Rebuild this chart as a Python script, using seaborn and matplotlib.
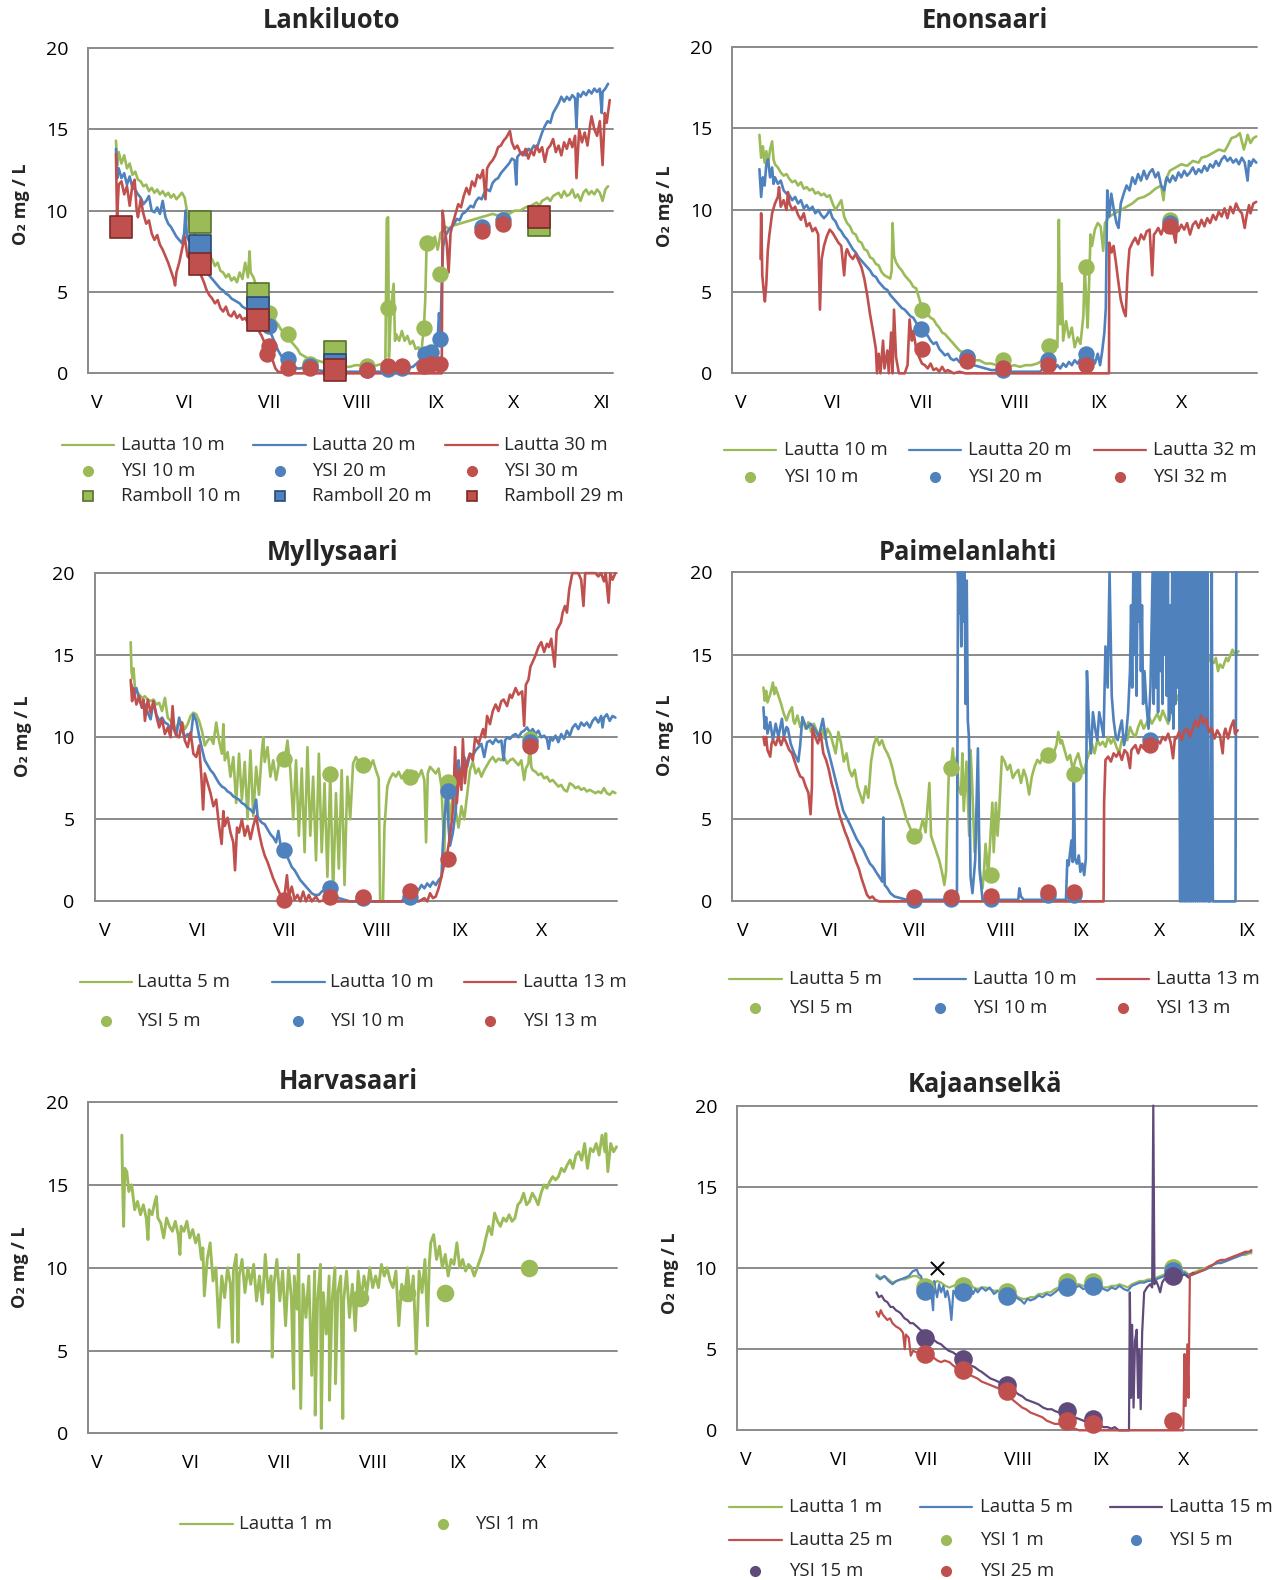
import matplotlib
matplotlib.use("Agg")
import matplotlib.pyplot as plt
from matplotlib.lines import Line2D
import pandas as pd
import seaborn as sns

sns.set_theme(style="white")
plt.rcParams["font.family"] = ["Open Sans", "DejaVu Sans"]

GREEN = "#9BBB59"
BLUE = "#4F81BD"
RED = "#C0504D"
PURPLE = "#604A7B"
GRID = "#8A8A8A"
EDGE = {GREEN: "#56722A", BLUE: "#284A75", RED: "#7A2A28"}

# x values are days counted from 1 May; y values are dissolved oxygen, mg/L

# ---------------- Lankiluoto ----------------
LANK_LAUTTA_10 = [(7,14.3),(7.5,12.8),(8,13.6),(9,12.9),(10,13.4),(11,12.6),(12,12.9),(13,12.2),(14,12.4),(15,11.9),(16,11.8),(17,11.5),(18,11.6),(19,11.2),(20,11.4),(21,11.1),(22,11.3),(23,11.0),(24,11.2),(25,10.9),(26,11.1),(27,10.8),(28,11.0),(29,10.7),(30,10.9),(31,11.1),(32,10.8),(33,9.8),(34,9.0),(35,8.7),(36,8.5),(37,8.2),(38,8.3),(39,7.8),(40,7.6),(41,7.2),(42,7.0),(43,6.6),(44,6.8),(45,6.3),(46,6.2),(47,5.9),(48,6.1),(49,5.7),(50,5.9),(51,5.6),(52,6.2),(53,5.8),(54,6.8),(55,5.9),(55.6,7.5),(56,6.2),(57,5.9),(58,5.4),(59,5.3),(60,5.0),(61,4.5),(62,4.1),(63,3.8),(64,3.5),(65,3.2),(66,3.0),(67,2.7),(68,2.5),(69,2.4),(70,2.1),(71,1.9),(72,1.7),(73,1.5),(74,1.2),(75,1.1),(76,1.0),(77,0.9),(78,0.9),(80,0.8),(82,0.7),(84,0.6),(86,0.5),(88,0.5),(90,0.4),(92,0.4),(94,0.5),(96,0.5),(98,0.4),(100,0.4),(102,0.5),(104,0.6),(105,0.8),(105.5,9.5),(106,9.6),(106.3,1.0),(107,3.9),(108,5.5),(108.5,2.0),(109,2.4),(110,2.0),(111,2.6),(112,2.0),(113,2.3),(114,1.8),(115,2.0),(116,1.5),(117,1.6),(118,1.2),(119,2.8),(119.5,4.5),(120,8.0),(121,8.3),(122,8.0),(123,8.4),(124,7.6),(124.5,8.0),(125,8.6),(126,8.8),(127,9.0),(128,8.9),(130,9.1),(132,9.2),(134,9.3),(136,9.4),(138,9.5),(140,9.6),(142,9.7),(144,9.8),(146,9.7),(148,9.9),(150,9.8),(152,10.0),(154,10.0),(156,10.2),(158,10.3),(160,10.5),(161,10.3),(162,10.6),(164,10.8),(165,10.6),(166,10.9),(168,11.1),(169,10.8),(170,11.2),(171,10.9),(172,11.0),(173,11.3),(174,10.8),(175,11.0),(176,10.6),(177,11.1),(178,11.3),(179,11.0),(180,11.2),(181,11.0),(182,11.3),(183,11.1),(184,10.6),(185,11.3),(186,11.5)]
LANK_LAUTTA_20 = [(7,13.8),(7.5,12.0),(8,12.6),(9,12.0),(10,12.3),(11,11.6),(12,12.1),(13,11.4),(14,11.3),(15,11.0),(16,10.8),(17,10.4),(18,10.6),(19,10.9),(20,10.0),(21,9.9),(22,10.2),(23,9.8),(24,10.6),(25,9.6),(26,9.2),(27,9.0),(28,8.7),(29,8.4),(30,8.2),(31,8.0),(31.8,8.6),(32.3,10.0),(32.8,8.4),(34,8.0),(35,7.6),(36,7.3),(37,7.0),(38,6.8),(39,6.5),(40,6.2),(41,6.0),(42,5.8),(43,5.6),(44,5.4),(45,5.2),(46,5.1),(47,4.9),(48,4.8),(49,4.6),(50,4.5),(51,4.4),(52,4.3),(53,4.1),(54,4.0),(55,3.9),(56,3.8),(57,3.6),(58,3.4),(59,3.2),(60,3.0),(61,2.9),(62,2.8),(63,2.6),(64,2.2),(65,1.8),(66,1.4),(67,1.1),(68,0.9),(69,0.8),(70,0.7),(71,0.5),(72,0.4),(73,0.3),(74,0.3),(76,0.4),(78,0.3),(80,0.2),(84,0.1),(90,0.1),(100,0.1),(104,0.1),(108,0.2),(112,0.3),(115,0.4),(117,0.7),(119,1.0),(121,1.2),(123,1.6),(124,2.0),(124.5,3.7),(125,2.2),(125.5,5.5),(126,7.8),(127,8.5),(128,8.8),(129,9.0),(130,9.2),(131,9.5),(132,9.4),(133,9.8),(134,9.9),(135,10.1),(136,10.3),(137,10.2),(138,10.6),(139,10.8),(140,10.7),(141,11.1),(142,11.3),(143,11.2),(144,11.7),(145,11.9),(146,12.0),(147,12.3),(148,12.5),(149,12.7),(150,12.9),(151,13.2),(152,13.1),(152.6,11.6),(153,13.3),(154,13.5),(155,13.6),(156,13.4),(157,13.8),(158,13.7),(159,14.0),(160,13.8),(161,14.3),(162,14.8),(163,15.2),(164,15.5),(165,15.4),(166,16.0),(167,16.3),(168,16.6),(169,17.0),(170,16.7),(171,17.0),(172,16.8),(173,17.1),(174,16.9),(174.5,15.1),(175,17.2),(176,17.0),(177,17.3),(178,17.1),(179,17.4),(180,17.2),(181,17.5),(182,17.3),(183,17.5),(183.7,16.0),(184,17.3),(185,17.5),(186,17.8)]
LANK_LAUTTA_30 = [(7,13.5),(7.4,9.5),(8,11.6),(9,11.8),(10,11.0),(11,11.5),(12,10.3),(13,11.6),(13.8,11.9),(14.5,10.1),(15,9.6),(16,10.7),(17,9.8),(18,9.2),(19,9.4),(20,8.6),(21,8.2),(22,8.5),(23,7.9),(24,7.6),(25,7.2),(26,6.8),(27,6.3),(28,5.8),(28.5,5.4),(29,6.2),(30,6.8),(31,7.6),(32,8.4),(32.5,7.8),(33,7.2),(34,7.0),(35,6.8),(36,6.6),(37,6.3),(38,6.0),(39,5.6),(40,5.1),(41,4.8),(42,4.6),(43,4.3),(44,4.5),(45,4.0),(46,3.8),(47,4.1),(48,3.6),(49,3.5),(50,3.8),(51,3.4),(52,3.6),(53,3.3),(54,3.4),(55,3.1),(56,3.2),(57,2.9),(58,2.8),(59,2.6),(60,2.3),(61,1.9),(62,1.5),(63,1.3),(64,0.8),(65,0.3),(66,0.1),(70,0.0),(80,0.0),(90,0.0),(100,0.0),(110,0.0),(120,0.0),(125.5,0.0),(125.8,10.0),(126.5,9.0),(127.3,8.0),(128,6.2),(128.7,8.6),(129.5,9.2),(130.5,9.8),(131.5,10.4),(132.5,10.2),(133.5,10.9),(134.5,11.4),(135.5,11.0),(136.5,11.8),(137.5,11.5),(138.5,12.2),(139.5,12.0),(140.5,12.5),(141.4,10.7),(142,12.6),(143,12.9),(144,13.1),(145,13.4),(146,13.9),(147,14.0),(148,14.3),(149,14.5),(150.3,14.9),(151,14.2),(152,13.8),(153,14.0),(154,13.6),(155,13.4),(156,13.8),(157,13.2),(158,13.7),(159,13.4),(160,14.0),(161,13.6),(162,13.9),(163,13.0),(164,13.8),(165,14.0),(166,14.4),(167,13.6),(168,14.0),(169,13.4),(170,14.2),(171,13.8),(172,14.4),(173,13.9),(174,14.6),(174.5,12.0),(175.5,15.0),(176.5,14.2),(177.5,14.8),(178.5,14.0),(179.5,15.3),(180,15.8),(181,15.0),(182,14.6),(183,15.5),(184,12.8),(184.8,16.0),(185.5,15.4),(186.6,16.8)]
LANK_YSI_10 = [(62.8,3.7),(69.4,2.4),(77.6,0.6),(98.4,0.45),(105.8,4.0),(119.1,2.8),(120.3,8.0),(124.8,6.1)]
LANK_YSI_20 = [(62.8,2.9),(69.4,0.9),(77.6,0.45),(98.4,0.2),(106,0.25),(111,0.3),(119.5,1.2),(121.5,1.3),(124.8,2.1),(140,9.0),(147.6,9.4)]
LANK_YSI_30 = [(62.0,1.2),(62.6,1.7),(69.4,0.35),(77.6,0.3),(98.4,0.2),(105.8,0.45),(111,0.45),(119.1,0.45),(121.5,0.6),(124.8,0.55),(140,8.75),(147.6,9.2)]
LANK_RAMBOLL_10 = [(37.7,9.3),(58.6,4.9),(86.5,1.3),(160.7,9.1)]
LANK_RAMBOLL_20 = [(37.7,7.8),(58.6,4.0),(86.5,0.5)]
LANK_RAMBOLL_29 = [(8.8,9.0),(37.7,6.7),(58.6,3.3),(86.5,0.2),(160.7,9.6)]

# ---------------- Enonsaari ----------------
ENON_LAUTTA_10 = [(6.6,14.6),(7.2,13.2),(7.8,13.9),(8.4,12.9),(9,13.6),(9.6,12.8),(10.3,13.7),(11,14.2),(11.5,13.1),(12,12.8),(13,12.6),(14,12.3),(15,12.1),(16,12.2),(17,11.9),(18,11.7),(19,11.8),(20,11.5),(21,11.7),(22,11.3),(23,11.4),(24,11.2),(25,11.3),(26,11.0),(27,11.1),(28,10.9),(29,11.0),(30,10.8),(31,10.9),(32,10.4),(33,10.0),(34,10.3),(35,10.6),(36,9.6),(37,9.2),(38,9.0),(39,8.6),(40,8.5),(41,8.1),(42,8.0),(43,7.6),(44,7.5),(45,7.1),(46,7.0),(47,6.7),(48,6.6),(49,6.2),(50,6.0),(51,5.9),(52,5.8),(52.5,6.3),(52.8,9.2),(53.3,7.2),(54,6.8),(55,6.5),(56,6.3),(57,6.0),(58,5.8),(59,5.6),(60,5.3),(61,5.2),(62,4.6),(63,4.0),(64,3.9),(65,3.6),(66,3.4),(67,3.3),(68,3.0),(69,2.8),(70,2.5),(71,2.4),(72,2.2),(73,2.0),(74,1.8),(75,1.6),(76,1.4),(77,1.3),(78,1.1),(79,1.0),(80,0.9),(81,0.8),(83,0.8),(85,0.6),(87,0.6),(89,0.5),(91,0.6),(93,0.4),(95,0.5),(97,0.4),(99,0.5),(101,0.5),(103,0.6),(105,0.8),(106,1.0),(107,1.5),(108,1.2),(109,2.0),(110,1.6),(110.5,9.4),(110.9,3.0),(111.5,5.5),(112,2.0),(113,3.2),(114,2.2),(115,2.8),(116,1.6),(117,2.2),(118,1.8),(119,3.5),(119.5,6.5),(120,4.5),(120.5,2.8),(121,5.5),(121.5,8.5),(122,7.8),(123,8.8),(124,9.2),(125,9.0),(125.9,7.5),(126.5,9.2),(128,9.6),(130,9.8),(132,10.0),(134,10.2),(136,10.4),(138,10.7),(140,10.8),(142,11.0),(144,11.3),(146,11.5),(146.8,10.6),(147.5,11.8),(149,12.4),(151,12.6),(153,12.8),(155,12.7),(157,13.0),(159,12.9),(160,13.2),(162,13.3),(164,13.5),(166,13.7),(168,13.6),(169,13.9),(170.4,14.4),(172,14.5),(173.3,14.7),(174.7,13.7),(175.5,14.2),(176,14.6),(177,14.1),(178,14.4),(179,14.5)]
ENON_LAUTTA_20 = [(6.6,12.5),(7.2,10.8),(7.8,12.0),(8.4,11.5),(9,12.8),(9.6,13.1),(10.3,12.0),(11,12.6),(11.5,11.6),(12,12.0),(13,11.6),(14,11.8),(15,11.2),(16,11.0),(17,10.9),(18,10.6),(19,10.8),(20,10.4),(21,10.6),(22,10.1),(23,10.3),(24,10.0),(25,10.2),(26,9.8),(27,10.0),(28,9.7),(29,9.5),(30,9.7),(31,10.0),(32,9.5),(33,9.3),(34,8.9),(35,8.7),(36,8.4),(37,8.2),(38,7.9),(39,7.6),(40,7.4),(41,7.1),(42,6.9),(43,6.7),(44,6.5),(45,6.3),(46,6.0),(47,5.9),(48,5.6),(49,5.4),(50,5.2),(51,5.1),(52,4.8),(53,4.6),(54,4.4),(55,4.2),(56,4.0),(57,3.9),(58,3.7),(59,3.5),(60,3.4),(61,3.1),(62,2.9),(63,2.6),(64,2.4),(65,2.3),(66,2.0),(67,1.8),(68,1.9),(69,1.5),(70,1.3),(71,1.1),(72,1.2),(73,0.9),(74,0.8),(75,0.9),(76,0.7),(77,0.6),(78,0.7),(79,0.5),(81,0.5),(83,0.4),(85,0.3),(87,0.2),(89,0.2),(91,0.1),(95,0.1),(100,0.1),(104,0.1),(105,0.3),(106,0.5),(107,0.8),(108,0.4),(109,0.3),(110,0.5),(111,0.3),(112,0.6),(113,0.4),(114,0.7),(115,0.5),(116,0.8),(117,0.6),(118,0.9),(119,0.7),(120,1.1),(121,0.8),(122,1.0),(123,0.6),(124,1.2),(124.8,0.5),(125.5,1.3),(126.3,2.5),(126.8,4.0),(127.3,11.2),(128,9.6),(128.7,11.0),(129.5,10.1),(130.5,9.2),(131.2,8.9),(132,10.4),(133,11.0),(134,11.5),(135,11.2),(136,12.0),(137,11.6),(138,12.2),(139,11.8),(140,12.4),(141,11.9),(142,12.3),(143,12.5),(144,12.0),(145,12.3),(146,11.5),(147,11.2),(148,12.0),(149,11.7),(150,12.1),(151,11.8),(152,12.3),(153,12.0),(154,12.4),(155,12.1),(156,12.3),(157,12.6),(158,12.2),(159,12.5),(160,12.3),(161,12.7),(162,12.4),(163,12.8),(164,12.6),(165,13.0),(166,12.7),(167,13.1),(168,13.3),(169,13.0),(170,13.2),(171,12.9),(172,13.1),(173,12.8),(174,13.2),(175,12.9),(176,11.8),(176.5,13.0),(177,12.7),(178,13.1),(179,12.9)]
ENON_LAUTTA_32 = [(7,7.0),(7.2,9.8),(7.6,6.0),(8,5.2),(8.5,4.4),(9,5.5),(9.5,7.5),(10,8.4),(11,9.8),(12,10.4),(13,10.8),(13.4,11.4),(14,10.2),(15,10.6),(16,10.0),(16.5,11.1),(17,10.4),(18,10.0),(19,10.2),(20,9.7),(21,9.4),(22,9.8),(23,9.0),(24,9.2),(25,8.7),(26,8.9),(27,8.5),(27.6,3.9),(28.2,7.0),(29,7.8),(30,8.4),(31,8.8),(32,8.6),(33,8.3),(34,8.0),(35,7.8),(36,6.0),(36.6,7.4),(37,7.6),(38,7.2),(39,7.0),(40,7.3),(41,6.9),(42,6.5),(43,5.8),(44,4.8),(45,3.6),(46,2.6),(47,1.5),(47.4,0.0),(48,1.2),(48.6,0.0),(49.5,2.0),(50,0.3),(51,1.4),(51.5,0.0),(52.3,2.5),(52.8,0.0),(53.3,3.9),(54,1.0),(55,0.0),(57,0.0),(58,0.5),(58.7,3.3),(59.5,2.0),(60,2.6),(61,1.5),(62,1.0),(63,0.6),(64,0.5),(65,0.3),(66,0.6),(67,0.2),(68,0.3),(69,0.1),(70,0.4),(71,0.1),(72,0.2),(74,0.0),(76,0.1),(78,0.0),(126,0.0),(127.9,0.0),(128,8.0),(128.8,7.4),(129.5,7.8),(130.3,6.8),(131,5.8),(132,4.5),(133,3.8),(133.7,3.5),(134.3,6.0),(135,7.6),(136,8.0),(137,8.3),(138,7.9),(139,8.5),(140,8.2),(141,8.7),(142,8.8),(142.9,6.0),(143.5,8.5),(144,8.6),(145,8.9),(146,8.5),(147,9.0),(148,8.6),(149,9.1),(150,8.8),(151,8.0),(151.5,9.0),(152,8.7),(153,9.1),(154,8.8),(155,9.2),(156,8.5),(157,9.1),(158,9.3),(159,8.9),(160,9.4),(161,9.0),(162,9.5),(163,9.2),(164,9.7),(165,9.4),(166,9.9),(167,9.6),(168,10.1),(169,9.5),(170,10.2),(171,9.8),(172,10.4),(173,10.0),(174,9.8),(175,8.9),(175.6,9.6),(176.5,10.3),(177,9.8),(178,10.4),(179,10.5)]
ENON_YSI_10 = [(62.9,3.9),(78.5,1.0),(91,0.8),(107.2,1.7),(119.9,6.5),(149,9.4)]
ENON_YSI_20 = [(62.7,2.7),(78.5,1.0),(91,0.2),(106.8,0.8),(120,1.2),(149,9.2)]
ENON_YSI_32 = [(62.9,1.5),(78.5,0.75),(91,0.3),(106.8,0.5),(120,0.5),(149,9.0)]

# ---------------- Myllysaari ----------------
MYLL_LAUTTA_5 = [(9,15.8),(9.3,14.0),(9.7,13.6),(10,14.2),(10.5,13.0),(11,12.8),(12,12.6),(13,12.4),(14,12.5),(15,12.3),(16,12.2),(17,12.3),(18,12.0),(19,12.1),(20,11.6),(21,12.4),(22,11.2),(23,11.0),(24,10.7),(25,10.5),(26,11.0),(27,10.9),(28,10.5),(29,10.8),(30,11.3),(31,11.5),(32,11.4),(33,11.0),(34,10.4),(35,9.5),(36,9.8),(37,10.0),(38,9.6),(39,10.9),(40,9.8),(41,9.0),(41.5,10.8),(42,8.6),(43,9.1),(44,7.6),(45,8.8),(46,6.0),(47,9.0),(48,6.2),(49,8.5),(50,5.0),(51,9.2),(52,5.2),(53,8.2),(54,6.5),(55,9.1),(55.5,10.0),(56,8.5),(57,9.4),(58,7.6),(59,8.6),(60,7.4),(61,8.4),(62,8.9),(63,8.6),(64,9.8),(65,8.0),(66,5.0),(67,8.6),(68,4.0),(69,8.1),(70,3.0),(71,9.4),(72,4.0),(73,7.6),(74,2.5),(75,9.0),(76,3.0),(77,7.2),(78,1.5),(79,7.8),(80,0.5),(81,6.6),(82,2.0),(83,8.0),(84,1.0),(85,7.6),(86,5.0),(87,8.4),(88,8.8),(89,8.5),(90,8.6),(91,8.3),(92,8.5),(93,8.2),(94,8.6),(95,8.0),(96,7.5),(96.5,0.0),(97.5,0.0),(98,4.5),(99,7.0),(100,7.5),(101,7.8),(102,7.6),(103,7.9),(104,7.5),(105,7.8),(106,8.0),(107,7.6),(108,7.7),(109,7.9),(110,7.6),(111,8.0),(112,7.4),(112.6,3.6),(113.2,7.8),(114,8.2),(115,8.0),(116,7.8),(117,8.1),(118,7.0),(119,3.0),(119.5,6.5),(120,7.3),(121,5.0),(122,6.5),(123,5.5),(124,4.5),(125,5.8),(126,5.0),(127,6.5),(128,8.0),(129,8.5),(130,7.8),(131,8.1),(132,7.6),(133,8.0),(134,8.3),(135,8.6),(136,8.8),(137,8.5),(138,8.7),(139,8.6),(140,8.8),(141,8.4),(142,8.6),(143,8.7),(144,8.5),(145,8.3),(146,8.6),(147,7.4),(147.6,8.1),(148.5,8.4),(149,9.7),(149.5,8.2),(150,8.0),(151,7.9),(152,7.7),(153,7.8),(154,7.5),(155,7.6),(156,7.3),(157,7.4),(158,7.2),(159,7.0),(160,7.1),(161,6.8),(162,6.7),(163,7.2),(164,7.1),(165,6.9),(166,7.0),(167,6.8),(168,6.9),(169,6.7),(170,6.8),(171,6.7),(172,6.6),(173,6.7),(174,6.6),(175,6.9),(176,6.6),(177,6.5),(178,6.7),(179,6.6)]
MYLL_LAUTTA_10 = [(9.3,13.2),(10,12.5),(11,13.0),(12,12.3),(13,11.8),(14,12.0),(15,11.5),(16,11.1),(17,12.2),(18,11.4),(19,11.0),(20,11.2),(21,10.9),(22,10.8),(23,10.5),(24,10.6),(25,10.1),(26,11.2),(27,10.4),(28,10.0),(29,10.2),(30,9.9),(31,11.4),(32,11.0),(33,10.1),(34,9.3),(35,8.6),(36,8.3),(37,8.0),(38,7.8),(39,7.5),(40,7.2),(41,7.0),(42,6.9),(43,6.7),(44,6.6),(45,6.4),(46,6.3),(47,6.2),(48,6.0),(49,5.9),(50,5.7),(51,5.6),(52,5.4),(53,6.2),(53.5,5.2),(54,5.0),(55,4.8),(56,4.7),(57,4.4),(58,4.1),(59,3.9),(60,3.6),(60.8,4.3),(61.5,3.5),(62.5,3.2),(63.5,2.9),(64.5,2.5),(65.5,2.1),(66.5,1.9),(67.5,1.6),(68.5,1.3),(69.5,1.1),(70.5,0.9),(71.5,0.7),(72.5,0.5),(73.5,0.4),(75,0.4),(76,0.6),(77,0.7),(78,0.8),(79,0.9),(80,0.4),(81,0.3),(82,0.2),(84,0.1),(86,0.0),(104,0.0),(105,0.2),(106,0.4),(107,0.6),(108,0.5),(109,0.8),(110,0.7),(111,1.0),(112,0.8),(113,1.1),(114,0.9),(115,1.2),(116,1.0),(117,1.3),(118,1.5),(118.5,3.5),(119,5.0),(120,6.8),(120.5,4.5),(121,3.4),(122,4.2),(123,5.5),(124,8.6),(124.5,7.4),(125,8.0),(126,8.8),(127,8.2),(128,9.0),(129,8.9),(130,9.2),(131,9.4),(132,9.6),(133,8.8),(134,9.7),(135,9.8),(136,9.6),(137,9.9),(138,9.7),(139,9.8),(139.8,8.6),(140.3,9.8),(141,10.0),(142,9.9),(143,10.1),(144,10.2),(145,10.0),(146,10.3),(147,10.4),(148,10.6),(149,10.3),(150,10.5),(151,10.2),(152,10.4),(153,10.0),(154,10.1),(155,9.9),(155.6,9.3),(156.2,10.0),(157,9.8),(158,10.1),(159,9.7),(160,10.2),(161,9.9),(162,10.4),(163,10.1),(164,10.6),(165,10.8),(166,10.5),(167,10.9),(168,10.7),(169,10.9),(170,10.6),(171,11.0),(172,11.2),(173,10.9),(174,11.3),(174.5,10.6),(175,11.2),(176,11.4),(177,11.0),(178,11.3),(179,11.2)]
MYLL_LAUTTA_13 = [(9,13.5),(9.5,12.2),(10,13.0),(11,12.0),(12,12.5),(13,11.8),(13.5,12.3),(14,11.0),(15,12.3),(16,11.5),(17,12.2),(18,11.3),(19,10.6),(20,11.1),(21,10.2),(22,10.6),(23,10.0),(23.7,11.9),(24.3,10.5),(25,10.1),(26,10.0),(27,10.9),(28,9.8),(29,9.4),(30,10.3),(31,9.0),(32,8.8),(33,9.5),(33.8,7.6),(34.4,5.6),(35,7.8),(36,7.2),(37,6.6),(38,5.8),(39,6.2),(40,4.6),(40.9,3.5),(41.5,5.5),(42,4.6),(43,5.1),(44,4.2),(45,3.6),(45.6,1.9),(46.3,4.5),(47,4.2),(48,5.0),(49,4.0),(50,4.6),(51,3.8),(52,4.6),(53,5.2),(54,4.2),(55,3.4),(56,2.8),(57,2.4),(58,1.9),(59,1.4),(60,1.0),(61,0.6),(62,0.2),(63,0.4),(63.8,1.6),(64.5,0.3),(65.5,0.9),(66.5,0.1),(67.5,0.4),(68.5,0.0),(69.5,0.6),(70.5,0.0),(71.5,0.4),(72.5,0.0),(74,0.3),(75,0.0),(78,0.1),(80,0.0),(110,0.0),(112,0.2),(113,0.0),(114,0.5),(115,0.2),(116,0.3),(117,0.8),(118,1.5),(119,2.3),(120,2.9),(121,4.0),(122,5.5),(122.8,9.4),(123.4,6.0),(124.2,8.0),(125,6.8),(125.5,9.9),(126.2,7.2),(127,8.5),(128,9.0),(129,8.6),(129.8,10.0),(131,9.6),(132.6,10.5),(133.3,10.0),(134,11.3),(135,10.8),(136,11.6),(137,12.0),(138,11.6),(139,12.2),(139.8,12.3),(141,11.9),(142,12.6),(142.7,12.4),(144,13.0),(145,12.6),(146.3,12.8),(147,10.7),(147.6,13.2),(148.5,13.5),(149.2,14.3),(150,14.6),(151,15.0),(152,15.5),(153,15.8),(154,15.2),(155,15.7),(155.7,15.5),(156.5,16.0),(157.7,14.3),(158.4,16.5),(159.9,17.0),(160.5,17.6),(161.3,18.0),(162,17.6),(162.8,19.0),(163.9,20.0),(166,20.0),(167,19.6),(167.8,18.0),(168.4,20.0),(172,20.0),(173,19.8),(174,20.0),(175,19.5),(175.6,20.0),(176.6,18.2),(177.2,20.0),(178,19.6),(179,20.0)]
MYLL_YSI_5 = [(62.8,8.7),(78.9,7.75),(90.6,8.3),(106.8,7.6),(120.2,7.3),(149,9.9)]
MYLL_YSI_10 = [(62.8,3.15),(78.9,0.8),(90.6,0.2),(106.8,0.3),(120.2,6.7),(149,9.7)]
MYLL_YSI_13 = [(62.8,0.1),(78.9,0.3),(90.6,0.3),(106.8,0.65),(120.2,2.6),(149,9.5)]

# ---------------- Paimelanlahti ----------------
PAIM_LAUTTA_5 = [(7.5,13.0),(8,12.2),(8.5,12.8),(9,12.1),(10,12.6),(11,13.3),(11.5,12.6),(12,13.0),(13,12.5),(14,12.0),(15,11.4),(16,11.0),(17,11.5),(18,11.8),(18.5,11.0),(19,10.8),(20,11.3),(21,10.6),(22,11.0),(23,10.5),(24,10.9),(25,10.3),(26,10.8),(27,10.4),(28,10.0),(29,10.5),(30,9.9),(31,10.5),(32,10.2),(33,9.6),(34,9.0),(35,10.3),(36,9.6),(37,8.5),(38,9.0),(39,8.0),(40,7.6),(41,8.0),(42,7.0),(43,6.5),(44,6.0),(45,7.0),(46,6.3),(47,8.5),(48,9.5),(49,10.0),(50,9.5),(51,9.8),(52,9.3),(53,9.0),(54,8.6),(55,8.0),(56,7.2),(57,6.7),(58,6.2),(59,5.6),(60,5.0),(61,4.6),(62,4.2),(63,4.0),(64,3.8),(65,4.3),(66,5.0),(67,4.2),(68.4,7.2),(69,4.0),(70,3.5),(71,3.0),(72,2.5),(73,1.8),(73.9,1.0),(74.5,1.8),(75,5.0),(75.6,8.2),(76.2,8.0),(77,9.3),(77.6,8.0),(78.5,8.8),(79,7.0),(80,6.5),(80.5,9.0),(81,5.5),(82,8.5),(83,4.0),(83.5,9.2),(84,7.5),(85,3.0),(86,6.0),(87,1.5),(87.9,0.8),(88.5,2.0),(89,3.5),(90,1.6),(91,4.5),(91.5,6.0),(92,3.0),(92.8,6.0),(93.4,4.0),(94,5.5),(95,8.8),(96,8.5),(97,8.0),(98,8.3),(99,7.5),(100,7.8),(101,8.0),(102,7.2),(103,8.0),(104,7.5),(105,6.5),(106,7.6),(107,8.2),(108,8.6),(109,8.4),(110,8.8),(111,8.5),(112,8.9),(113,9.2),(114,9.0),(115,9.5),(115.7,10.3),(116.5,9.6),(117,9.8),(118,9.2),(119,8.6),(120,8.9),(121,8.0),(122,8.6),(123,9.0),(124,8.3),(125,7.8),(126,8.5),(127,9.0),(128,9.6),(129,9.0),(130,9.8),(131,9.5),(132,9.7),(133,9.4),(134,10.0),(135,9.6),(136,9.9),(137,9.4),(138,9.0),(139,9.8),(140,10.1),(141,9.8),(142,10.6),(143,10.2),(144,10.0),(145,10.6),(146,11.0),(147,10.5),(148,10.8),(149,11.2),(150,10.8),(151,11.1),(152,11.4),(153,11.0),(154,11.6),(155,11.2),(156,10.8),(157,11.5),(158,11.9),(159,12.2),(160,12.6),(161,13.0),(162,13.3),(163,13.6),(164,13.9),(165,14.1),(166,14.4),(167,14.6),(168,14.8),(169,15.1),(170.6,15.0),(171.5,14.6),(172.8,14.5),(173.5,14.8),(174.3,14.0),(175,14.4),(176,14.2),(177.3,14.8),(178,14.6),(179.6,15.3),(180.5,15.0),(181.8,15.2)]
PAIM_LAUTTA_10 = [(7.5,11.8),(8,10.5),(8.5,11.2),(9,10.2),(10,10.9),(11,9.8),(12,10.8),(13,10.0),(14.3,11.1),(15,10.0),(16,10.6),(16.5,10.5),(17.5,9.6),(18.8,9.0),(20.3,8.5),(21,9.5),(21.8,11.2),(23.3,10.5),(24.8,10.8),(26.3,10.5),(27.8,10.0),(29.3,11.1),(30.8,9.5),(32.3,8.5),(33.8,7.5),(35.3,6.5),(36.8,5.5),(38.3,5.0),(39.5,4.6),(40.6,4.2),(41.7,3.8),(42.8,3.5),(44,3.2),(45.1,2.8),(46.6,2.3),(47.7,2.1),(48.8,1.8),(50,1.5),(51.1,1.2),(51.5,5.1),(52,1.0),(53,0.8),(54.1,0.5),(55.6,0.3),(57.9,0.2),(60.1,0.1),(78.5,0.1),(78.9,20.0),(79.3,17.5),(79.7,20.0),(80.1,15.5),(80.5,20.0),(80.9,17.0),(81.3,20.0),(81.7,12.0),(82.1,19.5),(82.5,11.0),(82.9,10.0),(83.5,1.5),(84.2,0.5),(85.2,2.5),(86.2,9.3),(86.8,2.0),(87.9,0.1),(101,0.1),(101.4,0.8),(102,0.3),(103,0.1),(118.5,0.1),(119,2.5),(119.5,2.2),(120.5,3.7),(121,2.4),(121.4,7.8),(121.8,2.6),(122.5,2.3),(123.2,2.8),(123.8,1.8),(124.5,2.3),(125.2,1.6),(125.8,2.6),(126.2,14.0),(127,10.5),(127.7,9.0),(128.4,11.5),(129.2,10.5),(130,9.8),(130.7,11.5),(131.5,10.8),(132.3,10.0),(133,15.5),(133.8,13.0),(134.5,20.0),(135.3,12.5),(136,11.0),(136.8,10.0),(137.5,9.8),(138.3,10.5),(139,11.0),(139.8,9.5),(140.5,10.0),(141.3,11.5),(142,14.0),(142.4,18.0),(142.8,13.0),(143.2,20.0),(143.6,15.0),(144,20.0),(144.4,12.5),(144.8,20.0),(145.2,17.0),(145.6,20.0),(146,14.0),(146.4,18.0),(146.8,12.0),(147.3,14.0),(148,12.0),(148.8,10.5),(149.5,13.0),(150.3,20.0),(150.7,12.0),(151.1,20.0),(151.5,13.0),(151.9,20.0),(152.3,11.5),(152.7,20.0),(153.1,14.0),(153.5,20.0),(153.9,12.0),(154.3,20.0),(154.7,15.0),(155.1,20.0),(155.5,12.5),(155.9,20.0),(156.3,11.0),(156.7,18.0),(157.1,11.5),(157.5,20.0),(157.9,10.5),(158.3,20.0),(158.7,12.0),(159.1,20.0),(159.5,13.0),(159.9,20.0),(160.4,0.0),(160.8,20.0),(161.2,0.0),(161.6,20.0),(162,0.0),(162.4,20.0),(162.8,0.0),(163.2,20.0),(163.6,0.0),(164,20.0),(164.4,0.0),(164.8,20.0),(165.2,0.0),(165.6,20.0),(166,0.0),(166.4,20.0),(166.8,0.0),(167.2,20.0),(167.6,0.0),(168,20.0),(168.4,0.0),(168.8,20.0),(169.2,0.0),(169.6,20.0),(170,0.0),(170.5,20.0),(170.8,0.0),(171.5,0.0),(172,20.0),(172.4,0.0),(180.7,0.0),(181,20.0)]
PAIM_LAUTTA_13 = [(7.5,10.0),(8,9.5),(8.5,10.0),(9,9.2),(10,8.8),(10.5,9.6),(11,9.8),(12,9.5),(13,10.0),(14,9.5),(15,10.0),(16,9.6),(17,9.2),(18,9.0),(19,8.5),(20,8.0),(21,7.6),(22,7.5),(23,7.0),(24,6.6),(24.8,5.3),(25.3,7.0),(25.5,10.5),(26.5,10.0),(27.5,9.6),(28.5,10.2),(29.5,9.0),(30.5,8.6),(31.5,8.0),(32.5,7.2),(33.5,6.6),(34.5,5.8),(35.5,5.2),(36.5,4.7),(37.5,4.2),(38.5,3.8),(39.5,3.3),(40.5,2.9),(41.5,2.4),(42.5,2.0),(43.5,1.4),(44.5,0.9),(45.5,0.4),(46.5,0.2),(47.5,0.3),(48.5,0.1),(50,0.0),(132.3,0.0),(132.5,6.0),(133,8.6),(134,8.8),(135,8.5),(136,9.0),(137,8.8),(138,9.1),(139,8.6),(140,9.2),(141,9.0),(142,8.1),(142.5,9.2),(143,9.3),(144,9.5),(145,9.0),(146,9.5),(147,9.3),(148,9.6),(149,9.4),(150,9.7),(151,9.5),(152,9.8),(153,9.6),(154,10.0),(155,9.8),(156,10.2),(157,9.6),(157.8,8.7),(158.5,10.0),(159,9.9),(160,10.3),(161,9.8),(162,10.4),(163,10.5),(164,10.0),(165,10.5),(166,11.0),(167,10.6),(168,11.3),(169,10.8),(170,11.1),(171,10.3),(172,10.5),(173,9.9),(174,10.4),(175,10.1),(176,9.0),(176.5,10.2),(177,10.5),(178,9.9),(179,10.6),(180,11.0),(180.5,10.2),(181.5,10.4)]
PAIM_YSI_5 = [(62.8,4.0),(76.2,8.1),(90.9,1.6),(112,8.9),(121.4,7.75)]
PAIM_YSI_10 = [(62.8,0.1),(76.2,0.15),(90.9,0.15),(112,0.4),(121.4,0.4),(149.5,9.8)]
PAIM_YSI_13 = [(62.8,0.3),(76.2,0.26),(90.9,0.35),(112,0.55),(121.4,0.55),(149.5,9.5)]

# ---------------- Harvasaari ----------------
HARV_LAUTTA_1 = [(8.6,18.0),(8.8,15.5),(9.2,12.5),(9.6,16.0),(10.3,15.8),(11,14.6),(12,15.0),(13,13.5),(14,14.0),(15,13.2),(16,13.8),(17,13.0),(17.6,11.7),(18,13.5),(19,13.2),(20,14.0),(20.5,14.3),(21,13.0),(22,12.7),(23,11.8),(24,13.0),(25,12.5),(26,12.2),(27,12.8),(28,12.0),(28.6,10.8),(29,12.5),(30,12.2),(31,12.8),(32,11.8),(33,12.3),(34,11.5),(35,12.0),(36,10.5),(36.5,11.2),(37,8.3),(38,10.5),(39,11.5),(40,9.2),(41,10.0),(42,6.4),(43,9.5),(44,8.2),(45,10.0),(46,9.0),(46.7,5.5),(47,9.8),(48,10.8),(48.6,5.5),(49,9.5),(50,10.5),(51,8.5),(52,10.0),(53,9.0),(54,10.2),(55,8.0),(56,9.5),(57,7.8),(58,10.8),(59,8.5),(60,9.5),(60.4,4.6),(61,9.0),(62,10.5),(63,8.0),(64,9.8),(65,6.5),(66,10.0),(67,8.2),(67.8,2.7),(68,9.5),(69,7.5),(69.5,10.8),(70.2,1.5),(71,9.0),(72,7.0),(73,9.5),(74,3.5),(75,9.8),(75.2,1.1),(76,8.0),(77,10.2),(77.3,0.3),(78,8.5),(79,6.0),(80,9.5),(80.1,2.0),(81,8.0),(82,10.0),(82.2,3.0),(83,8.5),(84,9.5),(84.7,0.9),(85,8.0),(86,9.8),(87,7.0),(88,9.0),(89,6.2),(90,9.8),(91,8.0),(92,9.5),(93,8.5),(94,10.0),(95,8.8),(96,9.5),(97,8.8),(98,10.2),(99,9.5),(100,10.0),(101,9.2),(102,8.8),(103,9.8),(104,6.5),(105,9.0),(106,8.2),(107,10.0),(108,8.0),(109,9.5),(110,4.8),(111,9.8),(112,8.5),(113,10.5),(113.9,6.5),(114.5,10.2),(115,11.5),(116,12.0),(117,10.5),(118,11.3),(119,10.0),(120,10.8),(121,9.5),(122,10.5),(123,10.2),(124,11.5),(125,10.0),(126,10.5),(127,9.8),(128,10.2),(129,10.0),(130,9.5),(131,10.0),(132,10.5),(133,11.0),(134,11.8),(135,12.5),(136,12.0),(137,13.3),(138,12.8),(139,12.5),(140,13.0),(141,12.8),(142,13.2),(143,12.8),(144,13.0),(145,13.8),(146,14.0),(147,14.5),(148,13.8),(149,14.0),(150,14.5),(151,14.2),(152,13.8),(153,14.5),(154,15.0),(155,14.8),(156,15.2),(157,15.5),(158,15.3),(159,15.5),(160,16.0),(161,15.8),(162,16.2),(163,16.5),(164,16.0),(165,16.8),(166,17.0),(167,16.5),(168,17.5),(169,16.0),(170,17.2),(171,17.0),(172,17.5),(173,16.8),(174,18.0),(175,17.0),(175.3,18.1),(176,15.8),(177,17.5),(178,17.0),(179,17.3)]
HARV_YSI_1 = [(90.7,8.2),(106.9,8.5),(119.9,8.5),(148.8,10.0)]

# ---------------- Kajaanselkä ----------------
KAJA_LAUTTA_1 = [(45.7,9.6),(47,9.4),(48.5,9.5),(49.9,9.3),(51.3,9.1),(52.7,9.2),(54.2,9.3),(55.6,9.3),(57,9.4),(58.4,9.5),(59.8,9.5),(61.3,9.3),(62.7,9.1),(64.1,9.0),(65.5,9.0),(66.9,9.2),(68.3,9.1),(69.8,8.9),(71.2,8.8),(72.6,8.9),(74,9.0),(75.4,9.1),(76.9,9.0),(78.3,9.0),(79.7,8.8),(81.1,8.7),(82.5,8.8),(83.9,8.8),(85.3,8.7),(86.8,8.6),(88.2,8.6),(89.6,8.5),(91,8.5),(92.5,8.6),(93.9,8.4),(95.3,8.2),(96.7,8.1),(98.1,8.1),(99.5,8.2),(101,8.2),(102.4,8.4),(103.8,8.4),(105.2,8.5),(106.6,8.5),(108.1,8.7),(109.5,8.8),(110.9,8.9),(112.3,9.0),(113.7,9.1),(115.2,9.0),(116.6,9.0),(118,8.9),(119.4,8.9),(120.8,8.9),(122.2,9.0),(123.6,8.9),(125.1,8.8),(126.5,8.8),(127.9,8.9),(129.3,8.9),(130.7,9.0),(132.2,8.9),(133.6,8.8),(135,9.0),(136.4,9.1),(137.8,9.2),(139.3,9.2),(140.7,9.3),(142.1,9.3),(143.5,9.4),(144.9,9.5),(146.4,9.6),(147.8,9.7),(149.2,9.8),(150.6,9.9),(152,9.8),(153.5,9.8),(154.9,9.6),(156.3,9.7),(157.7,9.8),(159.1,9.9),(160.6,10.0),(162,10.1),(163.4,10.2),(164.8,10.3),(166.2,10.4),(167.6,10.4),(169,10.5),(170.4,10.6),(171.9,10.7),(173.3,10.8),(174.7,10.8),(176.1,10.9),(176.8,10.9)]
KAJA_LAUTTA_5 = [(45.7,9.5),(47,9.3),(48.5,9.5),(49.9,9.2),(51.3,9.0),(52.7,9.2),(54.2,9.3),(55.6,9.4),(57,9.5),(58.4,9.8),(59.8,9.9),(60.5,9.6),(61.3,9.5),(62,9.0),(62.7,8.8),(63.5,9.1),(64.1,8.4),(64.8,8.6),(65.5,7.4),(65.9,9.2),(66.2,8.8),(66.9,8.2),(67.6,9.0),(68.3,8.5),(69.1,8.9),(69.8,8.2),(70.5,8.6),(71.2,8.0),(71.9,6.8),(72.6,8.6),(73.5,8.4),(74.5,8.9),(75.4,8.7),(76.5,9.0),(77.5,8.6),(78.3,8.9),(79.5,8.4),(80.3,8.7),(81.1,8.5),(82.5,8.8),(83.9,8.6),(85.3,8.8),(86.8,8.4),(88.2,8.6),(89.6,8.4),(91,8.5),(92.5,8.6),(93.9,8.3),(95.3,8.1),(96.3,8.0),(97.4,7.8),(98.5,8.1),(99.5,8.0),(101,8.1),(102.4,8.3),(103.8,8.2),(105.2,8.4),(106.6,8.3),(108.1,8.5),(109.5,8.7),(110.9,8.8),(112.3,8.9),(113.7,9.0),(115.2,8.8),(116.6,8.9),(118,8.7),(119.4,8.8),(120.8,8.7),(122.2,8.9),(123.6,8.8),(125.1,8.7),(126.5,8.6),(127.9,8.8),(129.3,8.7),(130.7,8.9),(132.2,8.7),(133.6,8.6),(135,8.9),(136.4,9.0),(137.8,9.1),(139.3,9.1),(140.7,9.2),(142.1,9.2),(143.5,9.3),(144.9,9.4),(146.4,9.5),(147.8,9.6),(149.2,9.7),(150.6,9.8),(152,9.7),(153.5,9.7),(154.9,9.5),(156.3,9.6),(157.7,9.7),(159.1,9.8),(160.6,9.9),(162,10.0),(163.4,10.2),(164.8,10.3),(166.2,10.3),(167.6,10.4),(169,10.5),(170.4,10.6),(171.9,10.7),(173.3,10.8),(174.7,10.9),(176.1,11.0),(176.8,11.0)]
KAJA_LAUTTA_15 = [(45.7,8.5),(46.5,8.2),(47.5,8.3),(48.5,8.0),(49.5,7.9),(50.6,7.6),(51.5,7.6),(52.5,7.4),(53.5,7.3),(54.2,7.2),(55.5,6.9),(56.5,6.8),(57.5,6.6),(58.5,6.6),(59.8,6.4),(61,6.2),(62,6.1),(62.7,6.0),(64,5.8),(65.5,5.6),(67,5.4),(68.3,5.3),(69.5,5.1),(71,4.9),(72.5,4.8),(74,4.6),(75.5,4.4),(76.9,4.3),(78.5,4.0),(80,3.9),(81.5,3.7),(82.5,3.6),(84,3.4),(85.5,3.2),(87,3.1),(88.2,3.0),(89.5,2.9),(91,2.8),(92.5,2.5),(94,2.4),(95.5,2.2),(96.7,2.1),(98,1.9),(99.5,1.8),(101,1.7),(102.4,1.6),(104,1.4),(105.5,1.3),(107,1.3),(108,1.2),(109.5,1.1),(111,1.2),(112.3,1.1),(113.5,0.9),(115,0.8),(116.6,0.7),(118,0.6),(119.5,0.5),(120.8,0.5),(122.5,0.4),(124,0.3),(125.1,0.2),(126.5,0.2),(127.9,0.1),(129,0.2),(130.5,0.0),(134,0.0),(134.3,8.5),(134.7,2.0),(135.1,6.5),(135.6,1.4),(136.1,5.5),(136.7,6.2),(137.2,2.0),(137.6,5.0),(138.1,1.3),(138.6,6.0),(139.3,8.5),(140.3,8.8),(141.4,9.0),(142.1,8.8),(142.5,20.0),(142.9,9.0),(143.5,9.2),(144.2,8.9),(144.9,8.5),(145.6,9.1),(146.3,9.3),(147.8,9.3),(149.2,9.5),(150.6,9.7),(152,9.5),(153.5,9.6),(154.9,9.4),(155.6,9.6),(156.5,9.7)]
KAJA_LAUTTA_25 = [(45.7,7.3),(46.5,7.0),(47.2,7.4),(48,7.1),(48.5,7.0),(49.5,6.8),(50.5,6.9),(51.3,6.6),(52.5,6.4),(53.5,6.3),(54.2,6.2),(55,6.0),(55.6,5.0),(56,5.9),(57,5.7),(57.7,4.6),(58.5,4.9),(59.8,4.8),(61,4.7),(62.7,4.6),(64,4.6),(65.5,4.5),(67,4.3),(68.3,4.2),(69.5,4.3),(71.2,4.2),(72.5,4.0),(74,3.8),(75.5,3.7),(76.9,3.6),(78.5,3.4),(79.7,3.3),(81,3.2),(82.5,3.0),(84,2.9),(85.4,2.8),(86.8,2.7),(88.2,2.6),(89.5,2.4),(91,2.2),(92.5,2.0),(93.9,1.8),(95.3,1.6),(96.7,1.4),(98,1.3),(99.5,1.1),(101,1.0),(102.4,0.9),(103.8,0.8),(105.2,0.6),(106.6,0.5),(108,0.4),(109.5,0.4),(110.9,0.3),(112.3,0.2),(113.7,0.1),(115.2,0.1),(116.6,0.0),(153,0.0),(153.4,4.7),(153.8,1.5),(154.4,5.3),(154.8,2.0),(155.3,9.6),(156.3,9.6),(157.7,9.7),(159.1,9.8),(160.6,9.9),(162,10.1),(163.4,10.2),(164.8,10.4),(166.2,10.5),(167.6,10.5),(169,10.6),(170.4,10.7),(171.9,10.8),(173.3,10.9),(174.7,11.0),(176.1,11.0),(176.8,11.1)]
KAJA_YSI_1 = [(62.7,8.8),(76.1,8.9),(91.5,8.5),(112.3,9.15),(121.3,9.15),(149.5,10.0)]
KAJA_YSI_5 = [(62.7,8.6),(76.1,8.5),(91.5,8.3),(112.3,8.8),(121.3,8.9),(149.5,9.8)]
KAJA_YSI_15 = [(62.7,5.7),(76.1,4.4),(91.5,2.8),(112.3,1.2),(121.3,0.7),(149.5,9.5)]
KAJA_YSI_25 = [(62.7,4.7),(76.1,3.7),(91.5,2.4),(112.3,0.6),(121.3,0.4),(149.5,0.6)]
KAJA_CROSS = [(66.9,10.0)]

# month label positions (days from 1 May) and their texts
LANK_MONTH_POS = [0, 32.0, 62.8, 94.7, 123.3, 151.8, 184]
LANK_MONTHS = ["V", "VI", "VII", "VIII", "IX", "X", "XI"]
ENON_MONTH_POS = [0, 32.1, 62.9, 95.2, 124.2, 153]
MYLL_MONTH_POS = [0, 32.3, 62.8, 95.4, 124.3, 153]
PAIM_MONTH_POS = [0, 31.6, 62.8, 94.7, 123.7, 153, 184.6]
PAIM_MONTHS = ["V", "VI", "VII", "VIII", "IX", "X", "IX"]
HARV_MONTH_POS = [0, 32.1, 62.7, 95.2, 124.1, 153]
KAJA_MONTH_POS = [0, 32.5, 63.0, 95.3, 124.1, 153]
MONTHS_V_X = ["V", "VI", "VII", "VIII", "IX", "X"]

# ---------------- drawing ----------------
W, H = 1269.0, 1568.0
fig = plt.figure(figsize=(12.79, 15.80), dpi=100)
fig.patch.set_facecolor("white")

TICK_FS = 14
LEG_FS = 13.4
TITLE_FS = 18.4
LINE_W = 1.9


def make_axes(left, top, right, bottom, xlim, ticks, labels):
    ax = fig.add_axes([left / W, 1 - bottom / H, (right - left) / W, (bottom - top) / H])
    ax.set_xlim(*xlim)
    ax.set_ylim(0, 20)
    ax.set_yticks([0, 5, 10, 15, 20])
    ax.set_xticks(ticks)
    ax.set_xticklabels(labels)
    ax.grid(False)
    for v in [0, 5, 10, 15, 20]:
        ax.axhline(v, color=GRID, lw=1.4, zorder=0.5, clip_on=False)
    for s in ["top", "right", "bottom"]:
        ax.spines[s].set_visible(False)
    ax.spines["left"].set_color(GRID)
    ax.spines["left"].set_linewidth(1.4)
    ax.tick_params(length=0, labelsize=TICK_FS, colors="black")
    ax.tick_params(axis="y", pad=14.5)
    ax.tick_params(axis="x", pad=15)
    ax.patch.set_alpha(0)
    return ax


def draw_line(ax, pts, color, lw=LINE_W):
    df = pd.DataFrame(pts, columns=["day", "o2"])
    sns.lineplot(data=df, x="day", y="o2", ax=ax, color=color, lw=lw,
                 estimator=None, sort=False, legend=False, zorder=2)
    ax.lines[-1].set_clip_on(False)


def draw_points(ax, pts, color, size, marker="o", edge=None):
    df = pd.DataFrame(pts, columns=["day", "o2"])
    sns.scatterplot(data=df, x="day", y="o2", ax=ax, color=color, s=size, marker=marker,
                    edgecolor=edge if edge else color, linewidth=1.2 if edge else 0,
                    zorder=4, clip_on=False, legend=False)


def finish(ax, title, tx, ty, lx, ly):
    ax.set_xlabel("")
    ax.set_ylabel("")
    fig.text(tx / W, 1 - ty / H, title, ha="center", va="center",
             fontsize=TITLE_FS, fontweight="bold")
    fig.text(lx / W, 1 - ly / H, "O\u2082 mg / L", ha="center", va="center",
             rotation=90, fontsize=13, fontweight="bold")


def key(kind, color, label, hx, tx, y, edge=None):
    fy = 1 - y / H
    if kind == "line":
        fig.add_artist(Line2D([(hx - 26) / W, (hx + 26) / W], [fy, fy], color=color,
                              lw=1.6, transform=fig.transFigure))
    elif kind == "circle":
        fig.add_artist(Line2D([hx / W], [fy], marker="o", ms=7, color=color, ls="none",
                              transform=fig.transFigure))
    else:
        fig.add_artist(Line2D([hx / W], [fy], marker="s", ms=7.5, mfc=color, mec=edge,
                              mew=1.2, ls="none", transform=fig.transFigure))
    fig.text(tx / W, fy, label, ha="left", va="center", fontsize=LEG_FS)


CIRCLE = 140
SQUARE = 270

# Lankiluoto
ax = make_axes(87.5, 47.6, 608.5, 370.5, (-3.1, 187.9), LANK_MONTH_POS, LANK_MONTHS)
draw_line(ax, LANK_LAUTTA_10, GREEN)
draw_line(ax, LANK_LAUTTA_20, BLUE)
draw_line(ax, LANK_LAUTTA_30, RED)
draw_points(ax, LANK_YSI_10, GREEN, CIRCLE)
draw_points(ax, LANK_YSI_20, BLUE, CIRCLE)
draw_points(ax, LANK_YSI_30, RED, CIRCLE)
draw_points(ax, LANK_RAMBOLL_10, GREEN, SQUARE, "s", EDGE[GREEN])
draw_points(ax, LANK_RAMBOLL_20, BLUE, SQUARE, "s", EDGE[BLUE])
draw_points(ax, LANK_RAMBOLL_29, RED, SQUARE, "s", EDGE[RED])
finish(ax, "Lankiluoto", 328.6, 20, 20.5, 203)
cols = [(87.5, 120), (277.5, 310), (468, 500)]
rows = [441.5, 467, 491.8]
for (hx, tx), c, d in zip(cols, [GREEN, BLUE, RED], ["10", "20", "30"]):
    key("line", c, f"Lautta {d} m", hx, tx, rows[0])
    key("circle", c, f"YSI {d} m", hx, tx, rows[1])
for (hx, tx), c, d in zip(cols, [GREEN, BLUE, RED], ["10", "20", "29"]):
    key("square", c, f"Ramboll {d} m", hx, tx, rows[2], EDGE[c])

# Enonsaari
ax = make_axes(726.6, 46.3, 1247, 370.5, (-2.8, 179.2), ENON_MONTH_POS, MONTHS_V_X)
draw_line(ax, ENON_LAUTTA_10, GREEN)
draw_line(ax, ENON_LAUTTA_20, BLUE)
draw_line(ax, ENON_LAUTTA_32, RED)
draw_points(ax, ENON_YSI_10, GREEN, CIRCLE)
draw_points(ax, ENON_YSI_20, BLUE, CIRCLE)
draw_points(ax, ENON_YSI_32, RED, CIRCLE)
finish(ax, "Enonsaari", 977, 20.5, 659.5, 205)
cols = [(744, 777.5), (927.5, 960.6), (1111, 1143.8)]
for (hx, tx), c, d in zip(cols, [GREEN, BLUE, RED], ["10", "20", "32"]):
    key("line", c, f"Lautta {d} m", hx, tx, 446.5)
    key("circle", c, f"YSI {d} m", hx, tx, 473.6)

# Myllysaari
ax = make_axes(94, 568.8, 612, 894.6, (-3.6, 179.5), MYLL_MONTH_POS, MONTHS_V_X)
draw_line(ax, MYLL_LAUTTA_5, GREEN)
draw_line(ax, MYLL_LAUTTA_10, BLUE)
draw_line(ax, MYLL_LAUTTA_13, RED)
draw_points(ax, MYLL_YSI_5, GREEN, CIRCLE)
draw_points(ax, MYLL_YSI_10, BLUE, CIRCLE)
draw_points(ax, MYLL_YSI_13, RED, CIRCLE)
finish(ax, "Myllysaari", 329.7, 548.8, 23.2, 731)
cols = [(105, 136.4), (296, 327.7), (486, 519)]
for (hx, tx), c, d in zip(cols, [GREEN, BLUE, RED], ["5", "10", "13"]):
    key("line", c, f"Lautta {d} m", hx, tx, 975)
    key("circle", c, f"YSI {d} m", hx, tx, 1013.7)

# Paimelanlahti
ax = make_axes(726.6, 568, 1248, 894.6, (-3.9, 188.9), PAIM_MONTH_POS, PAIM_MONTHS)
draw_line(ax, PAIM_LAUTTA_5, GREEN)
draw_line(ax, PAIM_LAUTTA_10, BLUE)
draw_line(ax, PAIM_LAUTTA_13, RED)
draw_points(ax, PAIM_YSI_5, GREEN, CIRCLE)
draw_points(ax, PAIM_YSI_10, BLUE, CIRCLE)
draw_points(ax, PAIM_YSI_13, RED, CIRCLE)
finish(ax, "Paimelanlahti", 960.7, 548.8, 660, 729.5)
cols = [(749.5, 782.4), (932.8, 965.5), (1114.3, 1147.1)]
for (hx, tx), c, d in zip(cols, [GREEN, BLUE, RED], ["5", "10", "13"]):
    key("line", c, f"Lautta {d} m", hx, tx, 971.7)
    key("circle", c, f"YSI {d} m", hx, tx, 1000.5)

# Harvasaari
ax = make_axes(87.5, 1093.7, 612, 1422.5, (-3.0, 179.1), HARV_MONTH_POS, MONTHS_V_X)
draw_line(ax, HARV_LAUTTA_1, GREEN, lw=2.1)
draw_points(ax, HARV_YSI_1, GREEN, 160)
finish(ax, "Harvasaari", 346, 1073, 19.5, 1257.7)
key("line", GREEN, "Lautta 1 m", 205, 237.3, 1512.5)
key("circle", GREEN, "YSI 1 m", 439.6, 471.4, 1512.5)

# Kajaanselkä
ax = make_axes(731.4, 1097.2, 1247, 1419.5, (-3.0, 178.7), KAJA_MONTH_POS, MONTHS_V_X)
draw_line(ax, KAJA_LAUTTA_1, GREEN, lw=1.6)
draw_line(ax, KAJA_LAUTTA_5, BLUE, lw=1.6)
draw_line(ax, KAJA_LAUTTA_15, PURPLE, lw=1.6)
draw_line(ax, KAJA_LAUTTA_25, RED, lw=1.6)
draw_points(ax, KAJA_YSI_1, GREEN, 180)
draw_points(ax, KAJA_YSI_5, BLUE, 180)
draw_points(ax, KAJA_YSI_15, PURPLE, 180)
draw_points(ax, KAJA_YSI_25, RED, 180)
draw_points(ax, KAJA_CROSS, "black", 90, "x")
ax.collections[-1].set_linewidth(1.4)
finish(ax, "Kajaanselkä", 977, 1076.6, 664.3, 1264)
key("line", GREEN, "Lautta 1 m", 749.5, 782.4, 1495.5)
key("line", BLUE, "Lautta 5 m", 938.5, 972, 1495.5)
key("line", PURPLE, "Lautta 15 m", 1127, 1160, 1495.5)
key("line", RED, "Lautta 25 m", 749.5, 782.4, 1528.2)
key("circle", GREEN, "YSI 1 m", 938.5, 972, 1528.2)
key("circle", BLUE, "YSI 5 m", 1127, 1160, 1528.2)
key("circle", PURPLE, "YSI 15 m", 749.5, 782.4, 1559.1)
key("circle", RED, "YSI 25 m", 938.5, 972, 1559.1)

fig.savefig("out.png", dpi=100, facecolor="white")
